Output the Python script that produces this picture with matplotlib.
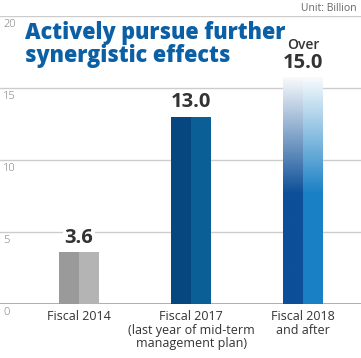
import numpy as np
import matplotlib.pyplot as plt
from matplotlib.colors import LinearSegmentedColormap

# Data
categories = ['Fiscal 2014',
              'Fiscal 2017\n(last year of mid-term\nmanagement plan)',
              'Fiscal 2018\nand after']
values = [3.6, 13.0, 15.0]
value_labels = ['3.6', '13.0', '15.0']
prefix_labels = ['', '', 'Over']
yticks = [0, 5, 10, 15, 20]
title = 'Actively pursue further\nsynergistic effects'

left_colors = ['#9a9a9a', '#05477e', '#0d4f98']
right_colors = ['#b4b4b4', '#0a5f97', '#1a80c5']

plt.rcParams['font.family'] = ['Open Sans', 'DejaVu Sans']

W, H = 361, 358
fig = plt.figure(figsize=(W / 100, H / 100), dpi=100)

# axes: y=0 at px 304, y=20 at px 16; bar centres at px 79, 191, 303
y0_px, y20_px = 304, 16
ax = fig.add_axes([0, (H - y0_px) / H, 1, (y0_px - y20_px) / H])
step = 112
ax.set_xlim(-79 / step, (W - 79) / step)
ax.set_ylim(0, 20)
ax.axis('off')

# grid lines
for t in yticks:
    if t == 0:
        ax.axhline(t, color='#a8a8a8', lw=1.3, zorder=1)
    else:
        ax.axhline(t, color='#cccccc', lw=1.0, zorder=1)
    ax.text(-79 / step + 3 / step, t - 0.2, str(t), ha='left', va='top',
            fontsize=8, color='#777777', fontweight='light', zorder=2)

half = 20 / step
x = np.arange(len(values))
tops = list(values)
for i, v in enumerate(values):
    if i < 2:
        ax.bar(x[i] - half / 2, v, width=half, color=left_colors[i],
               zorder=3, linewidth=0)
        ax.bar(x[i] + half / 2, v, width=half, color=right_colors[i],
               zorder=3, linewidth=0)
    else:
        # "over" bar: solid at the bottom, fading to white above the value
        top = v * 1.05
        solid = v * 0.51
        tops[i] = top
        yy = np.linspace(0, top, 300)
        vals = np.clip((yy - solid) / (top - solid), 0, 1) * 0.97
        for xc, col in [(x[i] - half, left_colors[i]), (x[i], right_colors[i])]:
            cmap = LinearSegmentedColormap.from_list('g', [col, '#ffffff'])
            ax.imshow(vals[:, None], extent=[xc, xc + half, 0, top],
                      origin='lower', aspect='auto', cmap=cmap,
                      vmin=0, vmax=1, zorder=3, interpolation='bilinear')

# value labels
for i, v in enumerate(values):
    ax.text(x[i], tops[i] + 0.3, value_labels[i], ha='center', va='bottom',
            fontsize=14.5, fontweight='bold', color='#333333', zorder=4,
            bbox=dict(facecolor='white', edgecolor='none', pad=1))
    if prefix_labels[i]:
        ax.text(x[i], tops[i] + 1.75, prefix_labels[i], ha='center', va='bottom',
                fontsize=10, fontweight='semibold', color='#333333', zorder=4)

# category labels
for i, c in enumerate(categories):
    ax.text(x[i], -0.45, c, ha='center', va='top', fontsize=9,
            color='#333333', linespacing=1.05)

# title and unit
fig.text(25 / W, 1 - 21 / H, title, ha='left', va='top', fontsize=15.5,
         fontweight='heavy', color='#0b5fa5', linespacing=0.93)
fig.text(357 / W, 1 - 3 / H, 'Unit: Billion', ha='right', va='top',
         fontsize=7.5, color='#666666')

fig.savefig('out.png', dpi=100)
